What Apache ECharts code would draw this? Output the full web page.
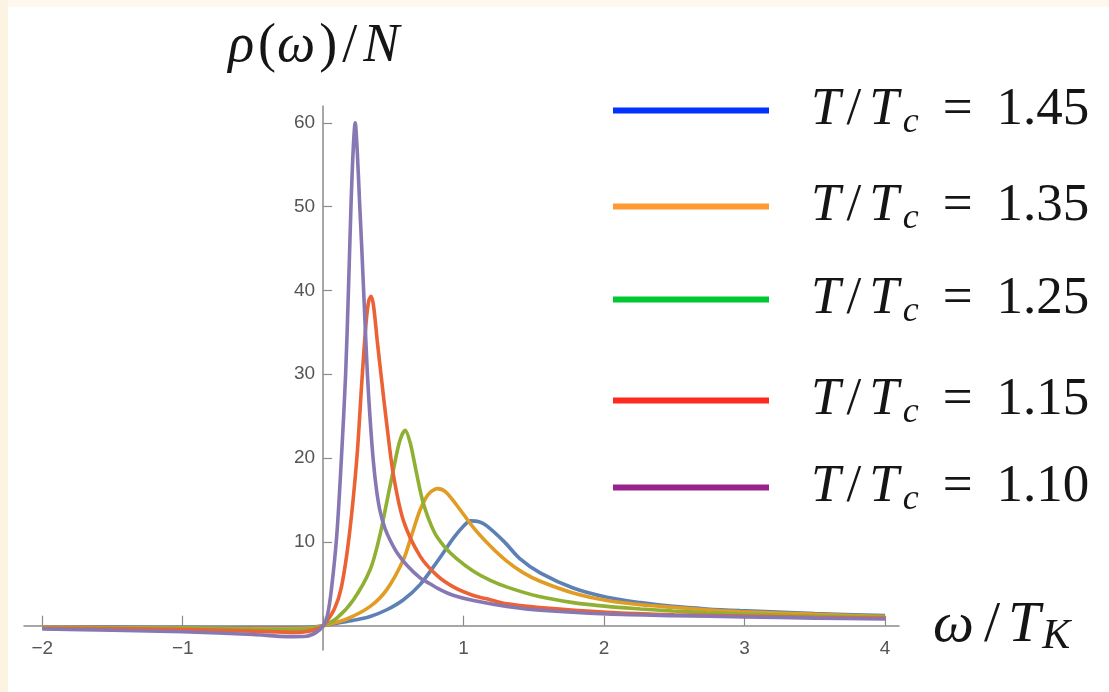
<!DOCTYPE html>
<html>
<head>
<meta charset="utf-8">
<script src="https://cdn.jsdelivr.net/npm/echarts@6/dist/echarts.min.js"></script>
<style>
  html, body { margin: 0; padding: 0; background: #ffffff; }
  #chart { width: 1109px; height: 692px; }
</style>
</head>
<body>
<div id="chart"></div>
<script>
// ---- data ----
const seriesNames = ['1.45', '1.35', '1.25', '1.15', '1.10'];

const x145 = [-2, -1.5, -1, -0.5, -0.2, -0.08, 0, 0.1, 0.216, 0.335, 0.453, 0.572, 0.69, 0.81, 0.93, 1.0, 1.05, 1.11, 1.165, 1.29, 1.40, 1.545, 1.78, 2.02, 2.26, 2.49, 2.73, 2.97, 3.5, 4];
const y145 = [-0.15, -0.17, -0.2, -0.23, -0.22, -0.15, 0, 0.3, 0.65, 1.1, 1.9, 3.1, 4.9, 7.6, 10.5, 11.9, 12.5, 12.4, 11.9, 10.0, 8.0, 6.3, 4.5, 3.4, 2.75, 2.3, 2.0, 1.8, 1.45, 1.2];

const x135 = [-2, -1, -0.5, -0.2, -0.08, 0, 0.168, 0.335, 0.453, 0.572, 0.63, 0.69, 0.75, 0.814, 0.87, 0.95, 1.07, 1.19, 1.307, 1.426, 1.545, 1.78, 2.02, 2.26, 2.49, 2.73, 2.97, 3.5, 4];
const y135 = [-0.2, -0.27, -0.33, -0.33, -0.25, 0, 0.8, 2.3, 4.3, 7.9, 10.8, 13.8, 15.7, 16.35, 16.0, 14.4, 11.7, 9.5, 7.7, 6.3, 5.3, 3.9, 3.0, 2.5, 2.2, 1.9, 1.67, 1.35, 1.1];

const x125 = [-2, -1, -0.5, -0.2, -0.08, 0, 0.097, 0.216, 0.335, 0.40, 0.45, 0.5, 0.545, 0.584, 0.62, 0.66, 0.71, 0.79, 0.86, 0.95, 1.07, 1.19, 1.31, 1.53, 1.78, 2.02, 2.26, 2.49, 2.73, 2.97, 3.5, 4];
const y125 = [-0.25, -0.33, -0.45, -0.5, -0.35, 0, 0.9, 3.1, 6.7, 10.5, 14.5, 18.6, 22.0, 23.3, 21.8, 18.6, 14.8, 11.2, 9.5, 8.0, 6.5, 5.4, 4.6, 3.5, 2.75, 2.3, 2.0, 1.75, 1.55, 1.4, 1.15, 1.0];

const x115 = [-2, -1, -0.5, -0.2, -0.1, -0.04, 0, 0.08, 0.13, 0.186, 0.24, 0.275, 0.305, 0.325, 0.342, 0.36, 0.385, 0.415, 0.453, 0.5, 0.572, 0.69, 0.81, 0.93, 1.07, 1.165, 1.31, 1.52, 2.02, 2.5, 3, 3.5, 4];
const y115 = [-0.3, -0.45, -0.65, -0.8, -0.65, -0.35, 0, 2.0, 4.6, 10.8, 20.0, 29.0, 36.0, 38.8, 39.3, 38.0, 34.0, 29.5, 24.0, 18.0, 12.5, 8.3, 6.0, 4.6, 3.6, 3.2, 2.6, 2.2, 1.6, 1.3, 1.15, 1.0, 0.9];

const x110 = [-2, -1.5, -1, -0.5, -0.25, -0.12, -0.05, 0, 0.03, 0.06, 0.097, 0.13, 0.16, 0.18, 0.198, 0.213, 0.228, 0.243, 0.258, 0.275, 0.292, 0.315, 0.335, 0.358, 0.38, 0.406, 0.44, 0.477, 0.53, 0.596, 0.69, 0.76, 0.833, 0.93, 1.07, 1.307, 1.545, 2.02, 2.5, 3, 3.5, 4];
const y110 = [-0.4, -0.55, -0.72, -1.05, -1.3, -1.25, -0.8, 0, 1.2, 4.5, 10.8, 20, 30, 40, 50, 56.5, 60, 56.5, 51, 45, 38.5, 30, 24.5, 19.5, 16.2, 13.6, 11.6, 10.2, 8.6, 7.2, 5.7, 5.0, 4.3, 3.6, 3.0, 2.3, 1.85, 1.4, 1.2, 1.05, 0.9, 0.8];

const xTickValues = [-2, -1, 0, 1, 2, 3, 4];
const xLabelValues = [-2, -1, 1, 2, 3, 4];
const yTickValues = [10, 20, 30, 40, 50, 60];

const xMin = -2.13, xMax = 4.1;
const yMin = -2.9, yMax = 62;

// ---- styling ----
const curveColors = ['#5E81B5', '#E19C24', '#8FB032', '#EB6235', '#8778B3'];
const legendColors = ['#0033FF', '#FF9933', '#00C832', '#FF2A1F', '#99228C'];
const legendCenters = [114, 210, 303, 404, 491];

const W = 1109, H = 692;
const gridBox = { left: 24, right: 210, top: 106, bottom: 42 };
const gridW = W - gridBox.left - gridBox.right;
const gridH = H - gridBox.top - gridBox.bottom;
// the axes cross at the origin: shift them from the grid edges to the zero lines
const xAxisOffset = -((0 - yMin) / (yMax - yMin)) * gridH;
const yAxisOffset = -((0 - xMin) / (xMax - xMin)) * gridW;

const xs = [x145, x135, x125, x115, x110];
const ys = [y145, y135, y125, y115, y110];

const serif = "'Liberation Serif', 'DejaVu Serif', serif";
const ink = '#151515';
const FS = 53;
const legendRich = {
  pad: { fontSize: FS, lineHeight: 60, width: 37 },
  i: { fontFamily: serif, fontStyle: 'italic', fontSize: FS, lineHeight: 60, color: ink, padding: [0, 4, 0, 0] },
  r: { fontFamily: serif, fontSize: FS, lineHeight: 60, color: ink },
  sl: { fontFamily: serif, fontSize: FS, lineHeight: 60, color: ink, padding: [0, 8, 0, 2] },
  s: { fontFamily: serif, fontStyle: 'italic', fontSize: 36, lineHeight: 34, verticalAlign: 'bottom', color: ink },
  e: { fontFamily: serif, fontSize: FS, lineHeight: 60, color: ink, padding: [0, 24, 0, 24] }
};
const NFS = 54;
const yNameRich = {
  i: { fontFamily: serif, fontStyle: 'italic', fontSize: NFS, lineHeight: 62, color: ink, padding: [0, 3, 0, 0] },
  r: { fontFamily: serif, fontSize: NFS, lineHeight: 62, color: ink, padding: [0, 1, 0, 1] },
  sl: { fontFamily: serif, fontSize: NFS, lineHeight: 62, color: ink, padding: [0, 6, 0, 4] }
};
const XFS = 58;
const xNameRich = {
  w: { fontFamily: serif, fontStyle: 'italic', fontSize: XFS, lineHeight: 64, color: ink, padding: [0, 6, 0, 0] },
  i: { fontFamily: serif, fontStyle: 'italic', fontSize: XFS, lineHeight: 64, color: ink, padding: [0, 2, 0, 0] },
  sl: { fontFamily: serif, fontSize: XFS, lineHeight: 64, color: ink, padding: [0, 8, 0, 4] },
  s: { fontFamily: serif, fontStyle: 'italic', fontSize: 42, lineHeight: 38, verticalAlign: 'bottom', color: ink }
};

const series = seriesNames.map((name, k) => ({
  name: name,
  type: 'line',
  data: xs[k].map((x, j) => [x, ys[k][j]]),
  showSymbol: false,
  symbol: 'none',
  smooth: 0.3,
  lineStyle: { color: curveColors[k], width: 3.6 },
  itemStyle: { color: curveColors[k] },
  z: 2 + k
}));

const legends = seriesNames.map((name, k) => ({
  left: 613,
  top: legendCenters[k] - 30,
  padding: 0,
  orient: 'vertical',
  itemWidth: 156,
  itemHeight: 6,
  icon: 'rect',
  selectedMode: false,
  data: [{ name: name, icon: 'rect', itemStyle: { color: legendColors[k], borderWidth: 0 } }],
  formatter: n => '{pad|}{i|T}{sl|/}{i|T}{s|c}{e|=}{r|' + n + '}',
  textStyle: { rich: legendRich }
}));

const minusFmt = v => String(v).replace('-', '\u2212');
const axisGray = '#8a8a8a';
const labelFont = "'Liberation Sans', Arial, sans-serif";

const option = {
  animation: false,
  backgroundColor: '#ffffff',
  graphic: [
    { type: 'rect', shape: { x: 0, y: 0, width: W, height: 7 }, style: { fill: '#FEF8EF' }, silent: true },
    { type: 'rect', shape: { x: 0, y: 0, width: 8, height: H }, style: { fill: '#FDF3E3' }, silent: true }
  ],
  grid: gridBox,
  legend: legends,
  xAxis: {
    type: 'value',
    min: xMin,
    max: xMax,
    position: 'bottom',
    offset: xAxisOffset,
    name: '{w|ω}{sl|/}{i|T}{s|K}',
    nameLocation: 'end',
    nameGap: 34,
    nameTextStyle: { rich: xNameRich },
    axisLine: { onZero: false, lineStyle: { color: axisGray, width: 1.5 } },
    axisTick: { show: true, inside: true, length: 10, customValues: xTickValues, lineStyle: { color: axisGray, width: 1.2 } },
    axisLabel: { customValues: xLabelValues, margin: 14, fontSize: 19, color: '#555', fontFamily: labelFont, formatter: minusFmt },
    splitLine: { show: false }
  },
  yAxis: {
    type: 'value',
    min: yMin,
    max: yMax,
    position: 'left',
    offset: yAxisOffset,
    name: '{i|ρ}{r|(}{i|ω}{r|)}{sl|/}{i|N}',
    nameLocation: 'end',
    nameGap: 28,
    nameTextStyle: { rich: yNameRich, padding: [0, 16, 0, 0] },
    axisLine: { onZero: false, lineStyle: { color: axisGray, width: 1.5 } },
    axisTick: { show: true, inside: true, length: 9, customValues: yTickValues, lineStyle: { color: axisGray, width: 1.2 } },
    axisLabel: { customValues: yTickValues, margin: 8, fontSize: 19, color: '#555', fontFamily: labelFont },
    splitLine: { show: false }
  },
  series: series
};

const chart = echarts.init(document.getElementById('chart'), null, { renderer: 'canvas' });
chart.setOption(option);
</script>
</body>
</html>
